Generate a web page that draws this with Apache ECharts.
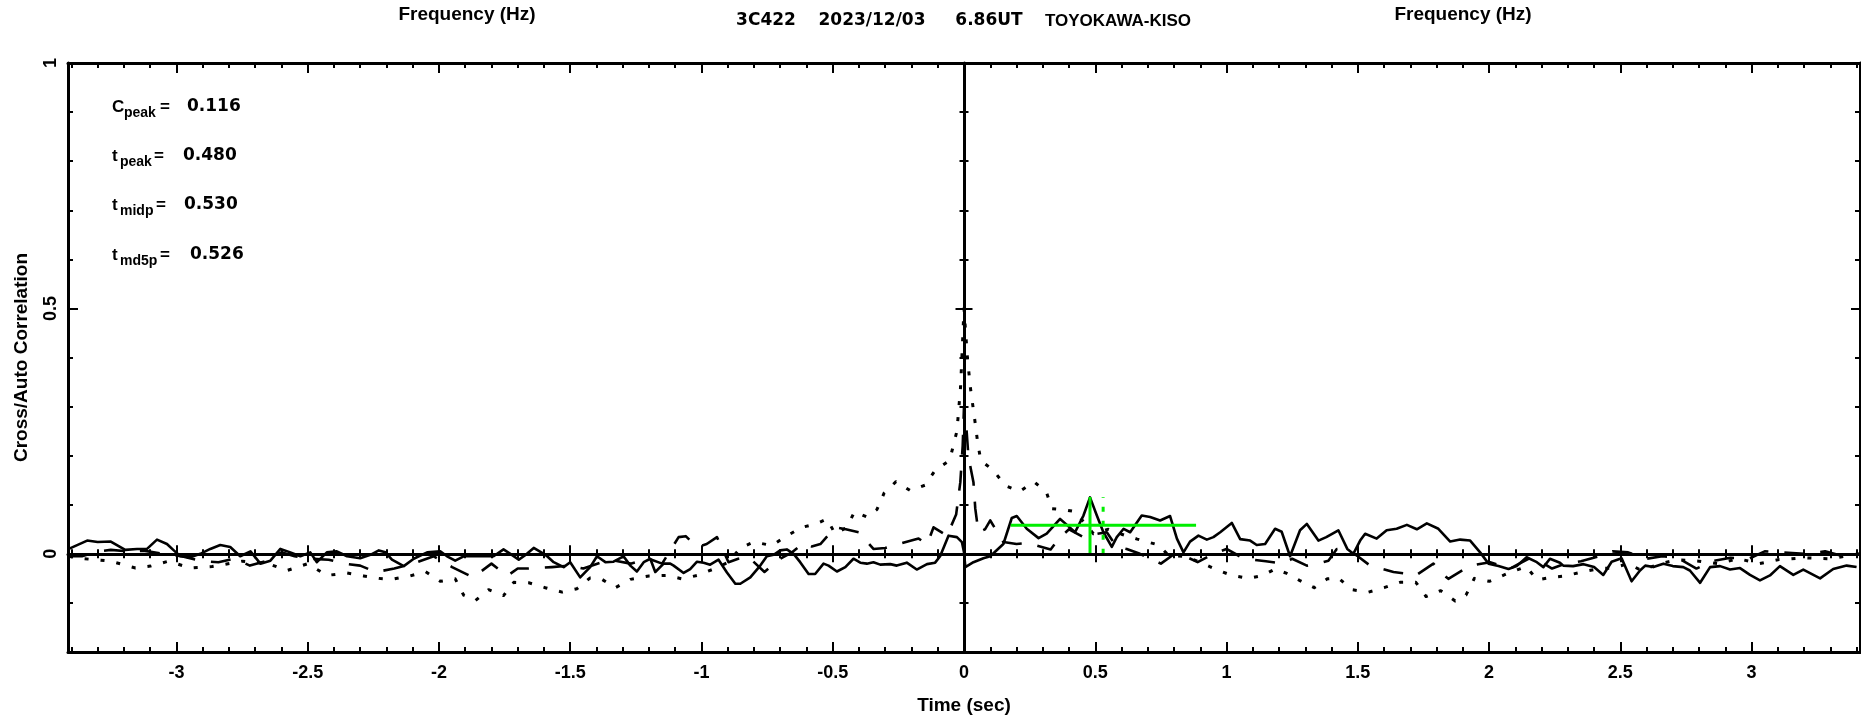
<!DOCTYPE html>
<html><head><meta charset="utf-8">
<script src="https://cdn.jsdelivr.net/npm/echarts@6/dist/echarts.min.js"></script>
<style>html,body{margin:0;padding:0;background:#fff}#c{width:1861px;height:720px}</style>
</head><body><div id="c"></div>
<script>
// ---- axis ranges and ticks ----
const X_MIN = -3.413, X_MAX = 3.413, Y_MIN = -0.2, Y_MAX = 1;
const xMajorTicks = [-3, -2.5, -2, -1.5, -1, -0.5, 0, 0.5, 1, 1.5, 2, 2.5, 3];
const yMajorTicks = [0, 0.5, 1];
const xMinorTicks = []; for (let i = -34; i <= 34; i++) xMinorTicks.push(i / 10);
const yMinorTicks = []; for (let i = -2; i <= 10; i++) yMinorTicks.push(i / 10);

// ---- texts ----
const titleParts = ['3C422', '2023/12/03', '6.86UT', 'TOYOKAWA-KISO'];
const topLabel = 'Frequency (Hz)';
const xName = 'Time (sec)';
const yName = 'Cross/Auto Correlation';
const statNames = [['C', 'peak'], ['t', 'peak'], ['t', 'midp'], ['t', 'md5p']];
const statValues = ['0.116', '0.480', '0.530', '0.526'];

// ---- peak markers ----
const cPeak = 0.116, tPeak = 0.480, tMidp = 0.530;
const halfLevel = 0.058;
const halfSpan = [0.178, 0.884];

// ---- cross correlation (solid) ----
const crossCorr = [
[-3.41,0.010],[-3.34,0.027],[-3.30,0.024],[-3.25,0.025],[-3.195,0.008],[-3.15,0.010],[-3.112,0.010],[-3.074,0.029],
[-3.036,0.020],[-3.01,0.007],[-2.985,-0.005],[-2.947,-0.007],[-2.909,0.0],[-2.871,0.010],[-2.833,0.018],[-2.795,0.014],
[-2.757,-0.005],[-2.718,0.005],[-2.68,-0.020],[-2.642,-0.014],[-2.604,0.010],[-2.566,0.003],[-2.528,-0.005],[-2.49,0.003],
[-2.465,-0.017],[-2.427,0.003],[-2.389,0.005],[-2.35,-0.005],[-2.30,-0.009],[-2.261,-0.002],[-2.229,0.007],[-2.204,0.003],
[-2.179,-0.012],[-2.134,-0.025],[-2.096,-0.010],[-2.045,0.003],[-1.995,0.005],[-1.969,-0.005],[-1.938,-0.014],[-1.906,-0.005],
[-1.868,-0.005],[-1.830,-0.005],[-1.792,-0.005],[-1.754,0.009],[-1.728,0.0],[-1.696,-0.012],[-1.665,0.0],[-1.639,0.012],
[-1.607,0.002],[-1.588,-0.005],[-1.563,-0.017],[-1.525,-0.027],[-1.50,-0.017],[-1.462,-0.048],[-1.424,-0.027],[-1.398,-0.005],
[-1.366,-0.017],[-1.335,-0.016],[-1.297,-0.005],[-1.271,-0.024],[-1.246,-0.036],[-1.220,-0.017],[-1.195,-0.010],[-1.176,-0.037],
[-1.144,-0.020],[-1.119,-0.020],[-1.106,-0.024],[-1.068,-0.039],[-1.043,-0.031],[-1.017,-0.016],[-0.992,-0.018],[-0.967,-0.022],
[-0.935,-0.012],[-0.903,-0.038],[-0.871,-0.061],[-0.852,-0.061],[-0.814,-0.048],[-0.776,-0.024],[-0.751,-0.005],[-0.725,-0.002],
[-0.700,0.007],[-0.675,0.009],[-0.649,0.0],[-0.624,-0.017],[-0.592,-0.041],[-0.567,-0.041],[-0.535,-0.020],[-0.516,-0.024],
[-0.484,-0.036],[-0.452,-0.027],[-0.421,-0.010],[-0.395,-0.018],[-0.370,-0.020],[-0.345,-0.017],[-0.319,-0.022],[-0.281,-0.021],
[-0.256,-0.024],[-0.218,-0.018],[-0.180,-0.032],[-0.141,-0.021],[-0.110,-0.018],[-0.091,-0.005],[-0.059,0.037],[-0.027,0.034],
[-0.008,0.024],[0.0,0.003],[0.005,-0.027],[0.036,-0.017],[0.074,-0.009],[0.100,-0.005],[0.150,0.020],[0.182,0.073],
[0.201,0.077],[0.239,0.051],[0.284,0.032],[0.315,0.041],[0.366,0.071],[0.392,0.059],[0.423,0.044],[0.455,0.078],
[0.480,0.115],[0.506,0.078],[0.531,0.044],[0.563,0.014],[0.582,0.034],[0.608,0.051],[0.633,0.044],[0.677,0.078],
[0.709,0.075],[0.747,0.068],[0.785,0.077],[0.811,0.031],[0.836,0.003],[0.861,0.025],[0.893,0.037],[0.925,0.029],
[0.950,0.034],[0.976,0.044],[1.020,0.063],[1.052,0.030],[1.09,0.027],[1.115,0.018],[1.147,0.020],[1.185,0.051],
[1.21,0.045],[1.242,-0.005],[1.28,0.048],[1.306,0.061],[1.35,0.027],[1.38,0.034],[1.426,0.048],[1.46,0.010],
[1.483,0.0],[1.509,0.027],[1.528,0.041],[1.572,0.031],[1.61,0.048],[1.648,0.051],[1.687,0.059],[1.725,0.050],
[1.763,0.062],[1.807,0.051],[1.852,0.025],[1.89,0.029],[1.928,0.027],[1.966,0.003],[1.998,-0.020],[2.036,-0.025],
[2.074,-0.031],[2.105,-0.025],[2.143,-0.007],[2.182,-0.017],[2.207,-0.027],[2.232,-0.010],[2.27,-0.018],[2.283,-0.024],
[2.32,-0.025],[2.36,-0.021],[2.40,-0.027],[2.435,-0.043],[2.467,-0.016],[2.505,-0.009],[2.543,-0.056],[2.575,-0.034],
[2.595,-0.024],[2.626,-0.027],[2.664,-0.020],[2.70,-0.025],[2.74,-0.027],[2.765,-0.034],[2.804,-0.059],[2.842,-0.027],
[2.88,-0.025],[2.918,-0.032],[2.956,-0.029],[2.994,-0.043],[3.032,-0.054],[3.07,-0.044],[3.108,-0.025],[3.159,-0.043],
[3.197,-0.032],[3.261,-0.050],[3.311,-0.031],[3.362,-0.024],[3.40,-0.027]
];

// ---- auto correlation 1 (dotted) ----
const autoDotted = [
[-3.41,-0.005],[-3.35,-0.010],[-3.25,-0.015],[-3.156,-0.029],[-3.099,-0.025],[-3.03,-0.015],[-2.947,-0.029],[-2.864,-0.026],
[-2.75,-0.015],[-2.65,-0.020],[-2.579,-0.034],[-2.5,-0.020],[-2.427,-0.044],[-2.35,-0.039],[-2.287,-0.045],[-2.229,-0.050],
[-2.179,-0.052],[-2.11,-0.045],[-2.052,-0.036],[-1.995,-0.056],[-1.938,-0.051],[-1.906,-0.084],[-1.861,-0.095],[-1.811,-0.073],
[-1.754,-0.085],[-1.715,-0.058],[-1.658,-0.059],[-1.595,-0.069],[-1.531,-0.078],[-1.474,-0.071],[-1.424,-0.049],[-1.379,-0.052],
[-1.328,-0.069],[-1.271,-0.052],[-1.2,-0.045],[-1.132,-0.044],[-1.074,-0.051],[-1.017,-0.044],[-0.954,-0.031],[-0.897,-0.017],
[-0.852,0.012],[-0.801,0.024],[-0.732,0.017],[-0.677,0.036],[-0.617,0.054],[-0.563,0.061],[-0.522,0.071],[-0.491,0.041],
[-0.446,0.054],[-0.417,0.086],[-0.37,0.075],[-0.332,0.090],[-0.304,0.124],[-0.259,0.147],[-0.205,0.129],[-0.148,0.140],
[-0.110,0.170],[-0.055,0.190],[-0.027,0.25],[-0.013,0.34],[0,0.50],
[0.013,0.40],[0.024,0.34],[0.043,0.265],[0.052,0.227],[0.064,0.19],[0.112,0.17],[0.157,0.139],[0.211,0.127],
[0.267,0.147],[0.315,0.124],[0.335,0.092],[0.38,0.09],[0.423,0.086],[0.493,0.041],[0.55,0.05],[0.6,0.04],
[0.66,0.03],[0.741,0.018],[0.779,-0.003],[0.84,-0.005],[0.899,-0.017],[0.957,-0.031],[1.02,-0.044],[1.083,-0.050],
[1.138,-0.044],[1.185,-0.031],[1.23,-0.040],[1.278,-0.054],[1.334,-0.069],[1.384,-0.051],[1.426,-0.049],[1.477,-0.073],
[1.541,-0.078],[1.60,-0.069],[1.661,-0.058],[1.721,-0.058],[1.76,-0.087],[1.816,-0.075],[1.871,-0.096],[1.912,-0.084],
[1.944,-0.050],[2.001,-0.056],[2.07,-0.040],[2.141,-0.026],[2.184,-0.053],[2.239,-0.048],[2.29,-0.045],[2.353,-0.037],
[2.42,-0.030],[2.473,-0.029],[2.53,-0.020],[2.581,-0.034],[2.65,-0.020],[2.72,-0.012],[2.8,-0.015],[2.87,-0.020],
[2.95,-0.010],[3.03,-0.020],[3.1,-0.012],[3.2,-0.008],[3.3,-0.010],[3.41,0.0]
];

// ---- auto correlation 2 (dashed) ----
const autoDashed = [
[-3.41,-0.005],[-3.36,-0.005],[-3.3,0.005],[-3.25,0.008],[-3.18,0.005],[-3.12,0.006],[-3.05,0.0],[-2.98,-0.005],
[-2.9,-0.015],[-2.84,-0.017],[-2.78,-0.010],[-2.72,-0.024],[-2.66,-0.015],[-2.6,0.003],[-2.55,-0.005],[-2.49,-0.010],
[-2.42,-0.012],[-2.36,-0.020],[-2.30,-0.024],[-2.24,-0.037],[-2.17,-0.030],[-2.1,-0.020],[-2.02,-0.005],[-1.95,-0.027],
[-1.87,-0.048],[-1.80,-0.020],[-1.74,-0.045],[-1.70,-0.030],[-1.665,-0.030],[-1.57,-0.027],[-1.50,-0.024],[-1.45,-0.030],
[-1.38,-0.017],[-1.33,-0.014],[-1.27,-0.020],[-1.2,-0.010],[-1.15,-0.020],[-1.087,0.034],[-1.06,0.036],[-1.017,0.014],
[-0.98,0.020],[-0.941,0.034],[-0.897,-0.017],[-0.86,-0.010],[-0.82,-0.007],[-0.76,-0.037],[-0.70,-0.010],[-0.655,0.003],
[-0.611,0.022],[-0.58,0.015],[-0.547,0.020],[-0.49,0.054],[-0.45,0.050],[-0.40,0.044],[-0.345,0.010],[-0.30,0.012],
[-0.268,0.017],[-0.173,0.031],[-0.14,0.020],[-0.116,0.054],[-0.065,0.037],[-0.03,0.080],[-0.014,0.146],[-0.005,0.22],[0,0.30],
[0.01,0.25],[0.017,0.197],[0.036,0.146],[0.043,0.092],[0.055,0.044],[0.08,0.050],[0.10,0.068],[0.15,0.024],
[0.20,0.020],[0.24,0.022],[0.33,0.009],[0.36,0.030],[0.40,0.050],[0.455,0.034],[0.5,0.040],[0.544,0.044],
[0.582,0.014],[0.62,0.010],[0.67,0.0],[0.75,-0.020],[0.81,0.003],[0.89,-0.017],[0.95,0.0],[1.0,0.010],
[1.05,-0.005],[1.1,-0.012],[1.15,-0.015],[1.217,-0.020],[1.25,-0.010],[1.306,-0.024],[1.35,-0.020],[1.388,-0.014],
[1.42,0.010],[1.458,0.010],[1.5,-0.005],[1.547,-0.024],[1.636,-0.037],[1.68,-0.040],[1.718,-0.045],[1.788,-0.020],
[1.82,-0.040],[1.845,-0.051],[1.928,-0.024],[2.004,-0.017],[2.08,-0.030],[2.15,-0.010],[2.2,-0.017],[2.24,-0.030],
[2.29,-0.020],[2.35,-0.015],[2.42,-0.005],[2.47,0.005],[2.53,0.003],[2.6,-0.010],[2.66,-0.005],[2.715,-0.007],
[2.79,-0.030],[2.85,-0.015],[2.92,-0.008],[2.99,-0.010],[3.05,0.005],[3.12,0.003],[3.2,0.0],[3.28,0.005],
[3.35,-0.005],[3.41,0.0]
];

const FONT = 'Liberation Sans, Arial, sans-serif';
const NUMFONT = 'DejaVu Sans, Liberation Sans, sans-serif';
const tickTxt = {fontFamily: FONT, fontWeight: 'bold', fontSize: 18, color: '#000'};
const nameTxt = {fontFamily: FONT, fontWeight: 'bold', fontSize: 19, color: '#000'};
const BLACK = '#000';

function axis(kind, o) {
  const base = {
    type: 'value', min: kind === 'x' ? X_MIN : Y_MIN, max: kind === 'x' ? X_MAX : Y_MAX,
    position: o.position, splitLine: {show: false},
    axisLine: {show: !!o.line, onZero: !!o.onZero, lineStyle: {color: BLACK, width: 3}},
    axisTick: {show: true, inside: o.inside !== false, length: o.len,
      customValues: o.ticks, lineStyle: {color: BLACK, width: 2}},
    axisLabel: {show: false},
    z: 5
  };
  if (o.onZero) base.axisLine.onZeroAxisIndex = 0;
  return Object.assign(base, o.extra || {});
}

const xAxes = [
  axis('x', {position: 'bottom', line: true, len: 5, ticks: xMinorTicks, extra: {
    axisLabel: Object.assign({show: true, customValues: xMajorTicks, margin: 12}, tickTxt),
    name: xName, nameLocation: 'middle', nameGap: 44, nameTextStyle: nameTxt}}),
  axis('x', {position: 'bottom', len: 10, ticks: xMajorTicks}),
  axis('x', {position: 'top', line: true, len: 5, ticks: xMinorTicks}),
  axis('x', {position: 'top', len: 10, ticks: xMajorTicks}),
  axis('x', {position: 'bottom', onZero: true, line: true, len: 4.5, ticks: xMinorTicks}),
  axis('x', {position: 'bottom', onZero: true, inside: false, len: 4.5, ticks: xMinorTicks}),
  axis('x', {position: 'bottom', onZero: true, len: 8.5, ticks: xMajorTicks}),
  axis('x', {position: 'bottom', onZero: true, inside: false, len: 8.5, ticks: xMajorTicks})
];
const yAxes = [
  axis('y', {position: 'left', line: true, len: 5, ticks: yMinorTicks, extra: {
    axisLabel: Object.assign({show: true, customValues: yMajorTicks, margin: 8, rotate: 90}, tickTxt),
    name: yName, nameLocation: 'middle', nameGap: 37, nameRotate: 90, nameTextStyle: nameTxt}}),
  axis('y', {position: 'left', len: 10, ticks: yMajorTicks}),
  axis('y', {position: 'right', line: true, len: 5, ticks: yMinorTicks}),
  axis('y', {position: 'right', len: 9, ticks: yMajorTicks}),
  axis('y', {position: 'left', onZero: true, line: true, len: 4.5, ticks: yMinorTicks}),
  axis('y', {position: 'left', onZero: true, inside: false, len: 4.5, ticks: yMinorTicks}),
  axis('y', {position: 'left', onZero: true, len: 8.5, ticks: yMajorTicks}),
  axis('y', {position: 'left', onZero: true, inside: false, len: 8.5, ticks: yMajorTicks})
];

function lineSeries(data, type, color, width) {
  return {type: 'line', data: data, xAxisIndex: 0, yAxisIndex: 0, showSymbol: false, symbol: 'none',
    silent: true, clip: true, z: 3,
    lineStyle: {color: color || BLACK, width: width || 2.6, type: type || 'solid', cap: 'butt', join: 'round'}};
}

const GREEN = '#00ee00';
const series = [
  lineSeries(autoDotted, [4, 12], BLACK, 3),
  lineSeries(autoDashed, [20, 16]),
  lineSeries(crossCorr, 'solid'),
  lineSeries([[halfSpan[0], halfLevel], [halfSpan[1], halfLevel]], 'solid', GREEN, 3),
  lineSeries([[tPeak, 0], [tPeak, cPeak]], 'solid', GREEN, 3),
  lineSeries([[tMidp, 0], [tMidp, cPeak]], [5, 9], GREEN, 3)
];

// text graphics
function T(text, x, y, size, align, family) {
  return {type: 'text', silent: true, style: {text: text, x: x, y: y, fontSize: size,
    fontFamily: family || FONT, fontWeight: 'bold', fill: '#000',
    textAlign: align || 'center', textVerticalAlign: 'middle'}};
}
const graphics = [];
const titleCenters = [766, 872, 989, 1118];
titleParts.forEach((p, i) => graphics.push(T(p, titleCenters[i], 21, 17, 'center', i < 3 ? NUMFONT : FONT)));
graphics.push(T(topLabel, 467, 15, 19));
graphics.push(T(topLabel, 1463, 15, 19));
const statY = [107, 156, 205, 255];
const subX = [124, 120, 120, 120];
const eqX = [160, 154, 156, 160];
const valX = [187, 183, 184, 190];
statNames.forEach((n, i) => {
  graphics.push(T(n[0], 112, statY[i], 17, 'left'));
  graphics.push(T(n[1], subX[i], statY[i] + 6.5, 14, 'left'));
  graphics.push(T('=', eqX[i], statY[i], 17, 'left'));
  graphics.push(T(statValues[i], valX[i], statY[i], 17, 'left', NUMFONT));
});

const chart = echarts.init(document.getElementById('c'), null, {renderer: 'canvas'});
chart.setOption({
  animation: false,
  backgroundColor: '#fff',
  grid: {left: 68, right: 1, top: 63, bottom: 67, containLabel: false},
  xAxis: xAxes,
  yAxis: yAxes,
  series: series,
  graphic: graphics
});
</script>
</body></html>
